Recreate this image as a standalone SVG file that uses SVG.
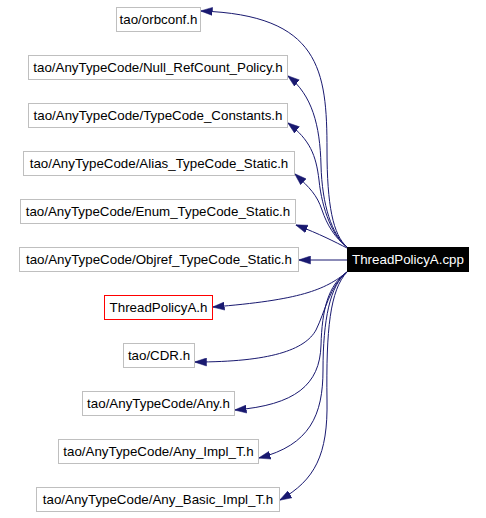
<svg xmlns="http://www.w3.org/2000/svg" width="486" height="518" viewBox="0 0 486 518">
<style>
.n rect{fill:#fff;stroke:#bfbfbf;stroke-width:1}
.n text{font-family:"Liberation Sans",Arial,sans-serif;font-size:13.33px;fill:#000;text-anchor:middle}
#n_cpp rect{fill:#000;stroke:#000}
#n_cpp text{fill:#fff}
#n_tpah rect{stroke:#ff0000}
.e path{fill:none;stroke:#191970;stroke-width:1;marker-end:url(#ah)}
</style>
<defs>
<marker id="ah" markerUnits="userSpaceOnUse" markerWidth="12" markerHeight="9" viewBox="0 0 12 9" refX="11.5" refY="4.5" orient="auto">
<path d="M0,0.5 L12,4.5 L0,8.5 z" fill="#191970" stroke="#191970" stroke-width="0.5"/>
</marker>
</defs>
<rect width="486" height="518" fill="#fff"/>
<g class="e" id="edges">
<path d="M347,247 C333,235 327,205 327,150 C327,70 320,15 201,11"/>
<path d="M347,247 C332,235 322,205 321,165 C320,125 312,95 288,76"/>
<path d="M347,247 C333,237 322,210 319,180 C316,155 310,140 288,123"/>
<path d="M347,247 C335,238 327,225 322,210 C317,195 310,188 295,174"/>
<path d="M347,248 C335,242 320,234 296,225"/>
<path d="M347,260 L299,260"/>
<path d="M347,272 C325,290 300,300 213,307"/>
<path d="M347,272 C330,285 325,312 316,330 C305,350 270,362 195,362"/>
<path d="M347,272 C328,285 322,310 321,345 C320,385 295,405 235,410"/>
<path d="M347,272 C330,285 323,320 323,370 C323,415 310,445 259,458"/>
<path d="M347,272 C330,290 326,330 327,400 C328,455 315,480 280,500"/>
</g>
<g class="n" id="n_orbconf"><rect x="116.5" y="7.5" width="84" height="24"/><text x="158.5" y="24">tao/orbconf.h</text></g>
<g class="n" id="n_null"><rect x="28.5" y="55.5" width="259" height="24"/><text x="158" y="72">tao/AnyTypeCode/Null_RefCount_Policy.h</text></g>
<g class="n" id="n_tcc"><rect x="28.5" y="103.5" width="259" height="24"/><text x="158" y="120">tao/AnyTypeCode/TypeCode_Constants.h</text></g>
<g class="n" id="n_alias"><rect x="23.5" y="151.5" width="271" height="24"/><text x="159" y="168">tao/AnyTypeCode/Alias_TypeCode_Static.h</text></g>
<g class="n" id="n_enum"><rect x="20.5" y="199.5" width="275" height="24"/><text x="158" y="216">tao/AnyTypeCode/Enum_TypeCode_Static.h</text></g>
<g class="n" id="n_objref"><rect x="19.5" y="247.5" width="279" height="24"/><text x="159" y="264">tao/AnyTypeCode/Objref_TypeCode_Static.h</text></g>
<g class="n" id="n_cpp"><rect x="347.5" y="247.5" width="121" height="24"/><text x="408" y="264">ThreadPolicyA.cpp</text></g>
<g class="n" id="n_tpah"><rect x="104.5" y="295.5" width="108" height="24"/><text x="158.5" y="312">ThreadPolicyA.h</text></g>
<g class="n" id="n_cdr"><rect x="123.5" y="343.5" width="71" height="24"/><text x="159" y="360">tao/CDR.h</text></g>
<g class="n" id="n_any"><rect x="82.5" y="391.5" width="152" height="24"/><text x="158.5" y="408">tao/AnyTypeCode/Any.h</text></g>
<g class="n" id="n_anyimpl"><rect x="58.5" y="439.5" width="200" height="24"/><text x="158.5" y="456">tao/AnyTypeCode/Any_Impl_T.h</text></g>
<g class="n" id="n_anybasic"><rect x="36.5" y="487.5" width="243" height="24"/><text x="158" y="504">tao/AnyTypeCode/Any_Basic_Impl_T.h</text></g>
</svg>
